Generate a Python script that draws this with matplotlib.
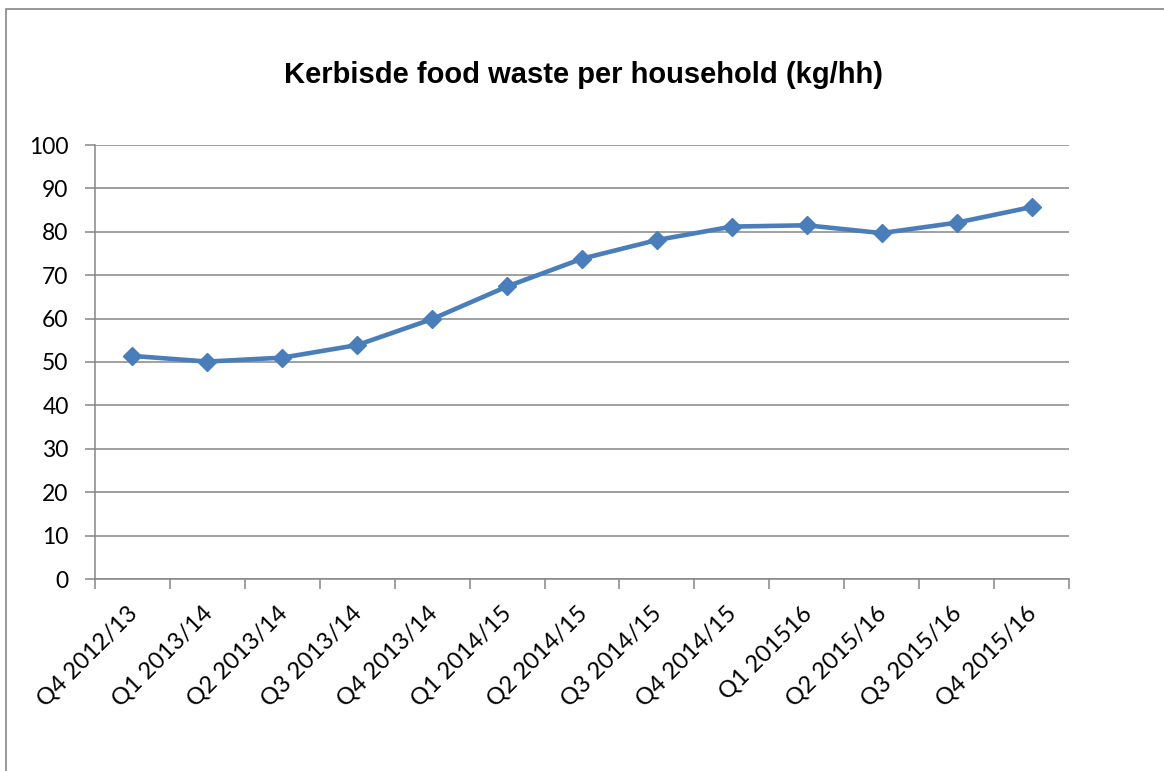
import matplotlib.pyplot as plt
from matplotlib.patches import Rectangle
from matplotlib.transforms import ScaledTranslation
import numpy as np

# quarterly kerbside food waste per household (kg/hh)
quarters = ["Q4 2012/13", "Q1 2013/14", "Q2 2013/14", "Q3 2013/14", "Q4 2013/14",
            "Q1 2014/15", "Q2 2014/15", "Q3 2014/15", "Q4 2014/15", "Q1 201516",
            "Q2 2015/16", "Q3 2015/16", "Q4 2015/16"]
waste_kg = [51.4, 50.1, 51.0, 53.9, 59.9, 67.4, 73.8, 78.1, 81.2, 81.5, 79.7, 82.1, 85.7]

line_col = "#4A7EBB"
grid_col = "#868686"

fig = plt.figure(figsize=(11.64, 7.71), dpi=100)
# outer chart frame
fig.patches.append(Rectangle((6/1164, -0.01), 1.2, (771-9)/771 + 0.01,
                             transform=fig.transFigure, fill=False,
                             edgecolor=grid_col, linewidth=1.2))

ax = fig.add_axes([95/1164, (771-579)/771, 974/1164, 434/771])
x = np.arange(len(quarters))
ax.plot(x, waste_kg, color=line_col, linewidth=3.3, marker="D",
        markersize=8.8, markerfacecolor=line_col, markeredgecolor=line_col, zorder=3)

ax.set_xlim(-0.5, len(quarters) - 0.5)
ax.set_ylim(0, 100)
ax.set_yticks(range(0, 101, 10))
ax.yaxis.grid(True, color=grid_col, linewidth=1.1)
ax.set_axisbelow(True)

# ticks at category boundaries, labels at category centres
ax.set_xticks(np.arange(-0.5, len(quarters), 1.0))
ax.set_xticklabels([])
ax.set_xticks(x, minor=True)
ax.set_xticklabels(quarters, minor=True, rotation=45, ha="right",
                   rotation_mode="anchor", fontsize=17, family="Lato")
ax.tick_params(axis="x", which="minor", length=0, pad=17)
ax.tick_params(axis="x", which="major", length=7, color=grid_col, width=1.1)
ax.tick_params(axis="y", length=7, color=grid_col, width=1.1, labelsize=16.5, pad=12)
for lab in ax.get_yticklabels():
    lab.set_family("Lato")
# nudge the slanted labels a little to the left, as in the original
shift = ScaledTranslation(-6/100, 0, fig.dpi_scale_trans)
for lab in ax.get_xticklabels(minor=True):
    lab.set_transform(lab.get_transform() + shift)

for s in ["top", "right"]:
    ax.spines[s].set_visible(False)
for s in ["left", "bottom"]:
    ax.spines[s].set_color(grid_col)
    ax.spines[s].set_linewidth(1.1)

fig.text(584/1164, 1 - 75/771, "Kerbisde food waste per household (kg/hh)",
         ha="center", va="center", fontsize=21, fontweight="bold",
         family="Liberation Sans")

fig.savefig("out.png", dpi=100)
